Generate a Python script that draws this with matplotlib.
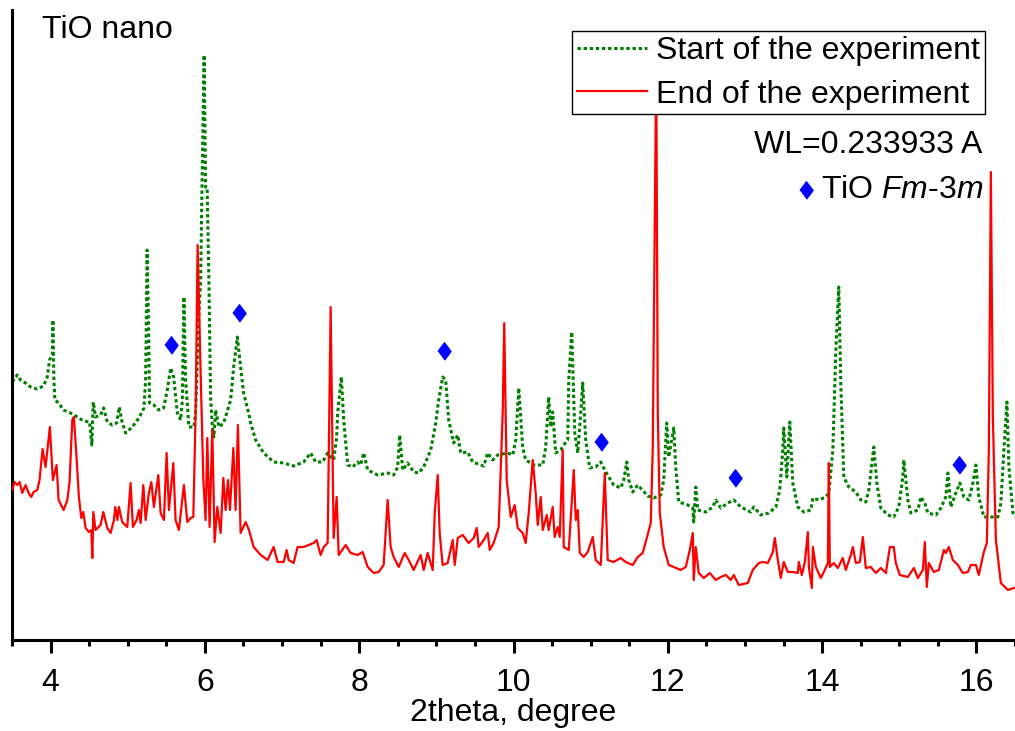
import matplotlib
matplotlib.use("Agg")
import matplotlib.pyplot as plt

plt.rcParams['font.family'] = ['Liberation Sans', 'DejaVu Sans']
plt.rcParams['mathtext.fontset'] = 'custom'
plt.rcParams['mathtext.rm'] = 'Liberation Sans'
plt.rcParams['mathtext.it'] = 'Liberation Sans:italic'

# start of the experiment (green, dotted)
start_2theta = [
    3.503, 3.568, 3.611, 3.676, 3.741, 3.827, 3.909, 3.957, 3.987, 4.022,
    4.030, 4.043, 4.056, 4.104, 4.169, 4.259, 4.346, 4.428, 4.506, 4.535,
    4.553, 4.583, 4.648, 4.687, 4.735, 4.800, 4.856, 4.891, 4.920, 4.972,
    5.059, 5.145, 5.210, 5.232, 5.251, 5.271, 5.283, 5.339, 5.400, 5.465,
    5.513, 5.556, 5.595, 5.643, 5.686, 5.708, 5.728, 5.750, 5.793, 5.858,
    5.880, 5.923, 5.945, 5.964, 5.990, 6.009, 6.029, 6.052, 6.074, 6.096,
    6.117, 6.139, 6.182, 6.243, 6.334, 6.373, 6.421, 6.463, 6.502, 6.567,
    6.593, 6.658, 6.761, 6.891, 7.021, 7.150, 7.280, 7.371, 7.436, 7.526,
    7.591, 7.669, 7.708, 7.721, 7.769, 7.799, 7.851, 7.916, 7.980, 8.019,
    8.058, 8.110, 8.240, 8.369, 8.447, 8.499, 8.525, 8.564, 8.628, 8.706,
    8.771, 8.836, 8.927, 8.992, 9.030, 9.082, 9.121, 9.160, 9.225, 9.277,
    9.316, 9.406, 9.471, 9.614, 9.666, 9.730, 9.795, 9.925, 9.990, 10.029,
    10.068, 10.119, 10.158, 10.262, 10.379, 10.418, 10.456, 10.482, 10.508, 10.547,
    10.612, 10.651, 10.703, 10.716, 10.755, 10.794, 10.833, 10.871, 10.897, 10.936,
    10.988, 11.066, 11.131, 11.196, 11.299, 11.390, 11.429, 11.468, 11.494, 11.546,
    11.610, 11.740, 11.818, 11.909, 11.947, 11.986, 12.012, 12.077, 12.103, 12.142,
    12.259, 12.324, 12.336, 12.362, 12.388, 12.492, 12.583, 12.622, 12.687, 12.777,
    12.855, 12.946, 13.075, 13.114, 13.205, 13.309, 13.400, 13.451, 13.490, 13.503,
    13.542, 13.581, 13.620, 13.685, 13.763, 13.854, 13.880, 13.957, 14.048, 14.087,
    14.139, 14.178, 14.216, 14.242, 14.281, 14.346, 14.437, 14.502, 14.566, 14.605,
    14.670, 14.709, 14.761, 14.852, 14.929, 14.994, 15.046, 15.059, 15.111, 15.150,
    15.241, 15.280, 15.331, 15.370, 15.474, 15.539, 15.603, 15.630, 15.668, 15.733,
    15.785, 15.837, 15.902, 15.954, 15.993, 16.031, 16.096, 16.187, 16.278, 16.317,
    16.356, 16.395, 16.421, 16.473, 16.512,
]
start_int = [
    258, 265, 260, 257, 253, 251, 254, 263, 280, 285,
    320, 260, 240, 237, 230, 227, 223, 219, 218, 195,
    238, 223, 225, 232, 218, 215, 217, 233, 220, 207,
    213, 222, 232, 260, 390, 310, 237, 235, 230, 232,
    250, 272, 263, 227, 220, 240, 343, 260, 213, 213,
    227, 327, 360, 460, 585, 453, 453, 360, 243, 213,
    203, 230, 213, 217, 240, 273, 303, 273, 247, 227,
    217, 200, 187, 178, 177, 174, 178, 187, 178, 178,
    187, 180, 203, 227, 263, 220, 175, 173, 178, 175,
    187, 170, 165, 167, 165, 173, 205, 170, 177, 168,
    167, 173, 190, 217, 240, 263, 260, 220, 197, 205,
    187, 188, 178, 174, 187, 180, 185, 187, 185, 200,
    252, 193, 180, 175, 175, 193, 243, 213, 228, 187,
    190, 195, 200, 260, 308, 207, 187, 227, 257, 200,
    172, 173, 178, 168, 155, 152, 160, 178, 160, 148,
    155, 144, 142, 145, 160, 217, 183, 212, 173, 138,
    135, 132, 118, 153, 130, 128, 133, 140, 132, 137,
    140, 133, 128, 133, 125, 127, 133, 150, 190, 212,
    163, 218, 157, 133, 128, 130, 142, 140, 143, 147,
    190, 290, 353, 257, 163, 153, 148, 140, 138, 150,
    193, 157, 132, 125, 123, 133, 163, 180, 140, 127,
    130, 143, 137, 127, 125, 132, 143, 167, 133, 147,
    157, 143, 140, 157, 175, 143, 123, 123, 123, 137,
    190, 238, 173, 127, 123,
]

# end of the experiment (red, solid)
end_2theta = [
    3.503, 3.533, 3.568, 3.598, 3.633, 3.676, 3.715, 3.750, 3.780, 3.827,
    3.857, 3.896, 3.935, 3.991, 4.030, 4.078, 4.104, 4.169, 4.217, 4.246,
    4.281, 4.302, 4.333, 4.367, 4.398, 4.424, 4.454, 4.497, 4.528, 4.541,
    4.554, 4.583, 4.648, 4.683, 4.735, 4.778, 4.821, 4.839, 4.865, 4.885,
    4.929, 4.994, 5.037, 5.067, 5.115, 5.145, 5.167, 5.202, 5.232, 5.274,
    5.306, 5.339, 5.396, 5.426, 5.469, 5.504, 5.534, 5.591, 5.620, 5.663,
    5.728, 5.772, 5.815, 5.850, 5.880, 5.906, 5.945, 5.980, 6.009, 6.031,
    6.061, 6.096, 6.126, 6.161, 6.204, 6.239, 6.269, 6.299, 6.325, 6.369,
    6.398, 6.428, 6.463, 6.528, 6.571, 6.632, 6.723, 6.813, 6.891, 6.943,
    7.021, 7.060, 7.086, 7.150, 7.202, 7.280, 7.345, 7.410, 7.449, 7.500,
    7.540, 7.591, 7.630, 7.669, 7.708, 7.734, 7.825, 7.889, 7.980, 8.045,
    8.110, 8.188, 8.253, 8.317, 8.369, 8.408, 8.447, 8.512, 8.590, 8.642,
    8.706, 8.797, 8.836, 8.888, 8.953, 8.979, 9.018, 9.043, 9.082, 9.147,
    9.212, 9.238, 9.277, 9.342, 9.419, 9.484, 9.523, 9.549, 9.614, 9.666,
    9.692, 9.743, 9.808, 9.860, 9.880, 9.912, 9.964, 10.016, 10.055, 10.119,
    10.158, 10.197, 10.249, 10.288, 10.314, 10.353, 10.379, 10.431, 10.456, 10.508,
    10.534, 10.573, 10.599, 10.638, 10.651, 10.716, 10.781, 10.807, 10.833, 10.859,
    10.910, 10.962, 11.027, 11.066, 11.131, 11.183, 11.221, 11.299, 11.390, 11.455,
    11.546, 11.610, 11.675, 11.727, 11.779, 11.805, 11.850, 11.870, 11.896, 11.947,
    12.012, 12.077, 12.168, 12.233, 12.285, 12.324, 12.336, 12.362, 12.401, 12.466,
    12.544, 12.622, 12.687, 12.752, 12.816, 12.855, 12.920, 13.036, 13.101, 13.179,
    13.231, 13.296, 13.361, 13.387, 13.426, 13.464, 13.503, 13.555, 13.620, 13.685,
    13.698, 13.737, 13.776, 13.815, 13.828, 13.867, 13.880, 13.919, 13.983, 14.022,
    14.074, 14.087, 14.100, 14.152, 14.203, 14.268, 14.307, 14.372, 14.398, 14.437,
    14.489, 14.528, 14.566, 14.631, 14.696, 14.761, 14.826, 14.878, 14.929, 14.955,
    15.007, 15.111, 15.189, 15.241, 15.306, 15.331, 15.357, 15.383, 15.448, 15.513,
    15.578, 15.603, 15.642, 15.694, 15.759, 15.824, 15.889, 15.928, 15.993, 16.031,
    16.096, 16.135, 16.161, 16.187, 16.213, 16.252, 16.317, 16.408, 16.486,
]
end_int = [
    150, 158, 155, 158, 147, 155, 147, 143, 148, 150,
    160, 191, 173, 213, 160, 175, 140, 130, 140, 158,
    220, 223, 187, 143, 122, 128, 112, 108, 110, 82,
    128, 110, 115, 128, 112, 107, 120, 133, 120, 133,
    118, 113, 157, 113, 120, 130, 117, 155, 120, 147,
    158, 133, 165, 127, 120, 187, 130, 177, 120, 110,
    155, 118, 122, 123, 227, 395, 267, 160, 120, 202,
    113, 210, 98, 133, 107, 162, 130, 160, 130, 192,
    130, 215, 107, 118, 110, 93, 85, 80, 93, 78,
    78, 90, 80, 77, 93, 93, 95, 97, 100, 85,
    93, 97, 333, 102, 143, 85, 95, 87, 85, 88,
    73, 67, 68, 75, 140, 93, 83, 73, 87, 80,
    70, 85, 70, 87, 70, 127, 165, 107, 75, 77,
    100, 75, 102, 105, 97, 102, 112, 93, 100, 107,
    90, 97, 113, 227, 317, 160, 123, 135, 112, 107,
    97, 127, 180, 147, 115, 143, 110, 125, 110, 133,
    103, 113, 103, 190, 93, 90, 170, 120, 130, 87,
    83, 88, 103, 80, 75, 167, 80, 78, 82, 78,
    75, 83, 87, 102, 117, 193, 580, 227, 127, 93,
    75, 73, 70, 73, 90, 107, 60, 93, 67, 62,
    67, 60, 63, 65, 60, 65, 55, 57, 70, 77,
    78, 77, 88, 102, 80, 62, 78, 68, 68, 67,
    78, 65, 78, 108, 73, 52, 93, 73, 62, 68,
    77, 177, 73, 77, 72, 82, 70, 85, 93, 77,
    78, 103, 72, 73, 67, 72, 67, 93, 93, 77,
    65, 63, 72, 62, 70, 98, 53, 77, 68, 70,
    90, 87, 93, 80, 75, 67, 68, 75, 75, 65,
    88, 97, 190, 468, 223, 100, 57, 50, 52,
]

# TiO Fm-3m reflections (marker positions)
tio_2theta = [5.556, 6.438, 9.097, 11.13, 12.87, 15.78]
tio_int = [295, 327, 289, 198, 162, 175]

diamond = [(-0.75, 0), (0, 1), (0.75, 0), (0, -1)]
fs = 23

fig = plt.figure(figsize=(10.15, 7.31), dpi=100)
ax = fig.add_axes([12 / 1015, 1 - 640 / 731, 1003 / 1015, 630 / 731])

ax.plot(start_2theta, start_int, color='#008000', lw=2.2,
        linestyle=(0, (1.1, 0.9)), label='Start of the experiment', zorder=2)
ax.plot(end_2theta, end_int, color='#ff0000', lw=1.6,
        label='End of the experiment', zorder=3)
ax.plot(tio_2theta, tio_int, linestyle='none', marker=diamond, ms=12.5,
        color='#0000ff', zorder=4)

ax.set_xlim(3.5, 16.5)
ax.set_ylim(0, 630)
ax.set_xticks([4, 6, 8, 10, 12, 14, 16])
ax.set_xticks([x / 2 for x in range(7, 34)], minor=True)
ax.set_yticks([])
for s in ['top', 'right']:
    ax.spines[s].set_visible(False)
for s in ['left', 'bottom']:
    ax.spines[s].set_linewidth(2.2)
ax.tick_params(axis='x', which='major', length=9.5, width=2.2, labelsize=fs, pad=11)
ax.tick_params(axis='x', which='minor', length=4.5, width=2.2)
ax.set_xlabel('2theta, degree', fontsize=fs, labelpad=0)

ax.text(0.03, 0.968, 'TiO nano', transform=ax.transAxes, fontsize=fs,
        ha='left', va='center')
ax.text(0.967, 0.786, 'WL=0.233933 A', transform=ax.transAxes, fontsize=fs,
        ha='right', va='center')
ax.plot([0.7916], [0.714], transform=ax.transAxes, linestyle='none',
        marker=diamond, ms=12.5, color='#0000ff', clip_on=False)
ax.text(0.968, 0.714, r'TiO $\mathit{Fm}$-$\mathit{3m}$', transform=ax.transAxes,
        fontsize=fs, ha='right', va='center')

leg = ax.legend(loc='upper right', bbox_to_anchor=(0.970, 0.9667), fontsize=fs,
                handlelength=2.2, handletextpad=0.28, borderpad=0.15,
                labelspacing=0.43, borderaxespad=0, fancybox=False,
                framealpha=1, edgecolor='black')
leg.get_frame().set_linewidth(1.0)
leg.set_zorder(10)

fig.savefig('out.png', dpi=100)
